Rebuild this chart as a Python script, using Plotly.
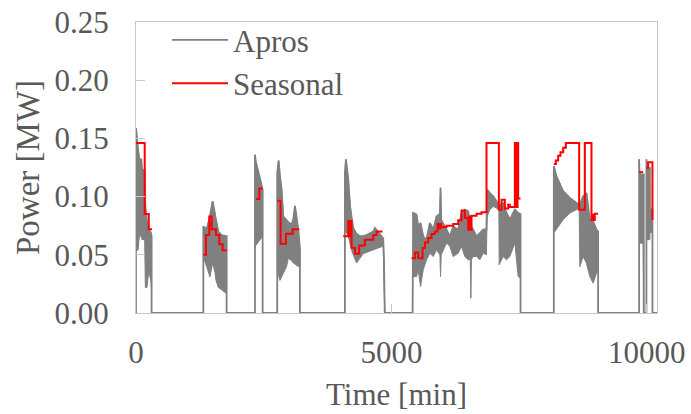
import plotly.graph_objects as go

# ---------------- data ----------------
# Apros: oscillating signal, given as upper / lower envelope per active period (time in min, power in MW)
seg1_t = [0, 40, 65, 105, 117, 170, 183, 215, 250, 290, 305]
seg1_hi = [0.159, 0.140, 0.132, 0.132, 0.123, 0.123, 0.092, 0.078, 0.072, 0.069, 0.066]
seg1_lo = [0.054, 0.054, 0.066, 0.066, 0.063, 0.063, 0.022, 0.022, 0.036, 0.028, 0.020]

seg2_t = [1318, 1331, 1383, 1448, 1500, 1546, 1566, 1611, 1676, 1761, 1774]
seg2_hi = [0.074, 0.074, 0.072, 0.083, 0.096, 0.083, 0.080, 0.070, 0.067, 0.066, 0.066]
seg2_lo = [0.048, 0.048, 0.040, 0.031, 0.043, 0.035, 0.028, 0.022, 0.020, 0.017, 0.017]

seg3_t = [2329, 2345, 2414, 2479]
seg3_hi = [0.136, 0.130, 0.118, 0.106]
seg3_lo = [0.057, 0.057, 0.062, 0.066]

seg4_t = [2765, 2792, 2818, 2851, 2883, 2948, 2981, 3046, 3079, 3112, 3177, 3209]
seg4_hi = [0.120, 0.131, 0.118, 0.106, 0.083, 0.079, 0.078, 0.076, 0.080, 0.092, 0.0715, 0.055]
seg4_lo = [0.040, 0.032, 0.028, 0.030, 0.034, 0.040, 0.047, 0.045, 0.043, 0.042, 0.040, 0.040]

seg5_t = [4090, 4110, 4155, 4188, 4220, 4253, 4318, 4383, 4449, 4514, 4644, 4677, 4808, 4840, 4855, 4870]
seg5_hi = [0.120, 0.132, 0.115, 0.092, 0.080, 0.073, 0.068, 0.066, 0.066, 0.067, 0.070, 0.073, 0.066, 0.064, 0.045, 0.005]
seg5_lo = [0.070, 0.070, 0.066, 0.060, 0.054, 0.050, 0.043, 0.047, 0.051, 0.052, 0.054, 0.055, 0.057, 0.057, 0.035, 0.000]

seg6_t = [5415, 5427, 5492, 5525, 5571, 5623, 5688, 5753, 5819, 5884, 5950, 5962, 5975,
          6014, 6080, 6145, 6210, 6308, 6373, 6438, 6504, 6545, 6556, 6567, 6601, 6667,
          6732, 6797, 6860, 6875, 6927, 6993, 7058, 7105, 7110, 7188, 7254, 7319, 7417,
          7482, 7528]
seg6_hi = [0.0845, 0.0859, 0.0845, 0.0744, 0.0773, 0.0658, 0.0629, 0.0773, 0.0716, 0.0830, 0.085, 0.1075, 0.080,
           0.0773, 0.0716, 0.0658, 0.0744, 0.0716, 0.0859, 0.0888, 0.0874, 0.075, 0.074, 0.074, 0.0716, 0.0658,
           0.0687, 0.0716, 0.072, 0.1060, 0.1031, 0.1003, 0.0960, 0.093, 0.0916, 0.0945, 0.0859, 0.0802, 0.0888,
           0.0859, 0.085]
seg6_lo = [0.031, 0.0313, 0.0313, 0.0371, 0.0227, 0.0371, 0.0457, 0.0514, 0.0485, 0.0543, 0.050, 0.0313, 0.050,
           0.0543, 0.0601, 0.0572, 0.0485, 0.0514, 0.0572, 0.0485, 0.0457, 0.046, 0.0127, 0.046, 0.0485, 0.0485,
           0.0457, 0.0514, 0.050, 0.0830, 0.0888, 0.0916, 0.0902, 0.088, 0.0414, 0.0485, 0.0457, 0.0485, 0.0601,
           0.0313, 0.030]

seg7_t = [8180, 8232, 8363, 8493, 8624, 8676, 8689, 8754, 8819, 8884, 8950, 9015, 9047]
seg7_hi = [0.126, 0.1175, 0.1046, 0.0989, 0.0945, 0.093, 0.093, 0.1003, 0.1031, 0.0802, 0.0787, 0.0716, 0.070]
seg7_lo = [0.0687, 0.0716, 0.0802, 0.0859, 0.0888, 0.090, 0.0399, 0.0485, 0.0428, 0.0313, 0.0256, 0.0342, 0.035]

seg8_t = [9850, 9858, 9928, 9940]
seg8_hi = [0.132, 0.119, 0.119, 0.119]
seg8_lo = [0.060, 0.060, 0.060, 0.000]

seg9_t = [9993, 10000, 10026, 10059, 10062, 10111]
seg9_hi = [0.132, 0.1247, 0.1247, 0.1247, 0.089, 0.089]
seg9_lo = [0.063, 0.063, 0.063, 0.063, 0.069, 0.069]

apros_end = 10200

# Seasonal: step series (value holds until next time), one list pair per active period
sea1_t = [0, 170, 250, 315]
sea1_p = [0.146, 0.085, 0.072, 0.072]
sea2_t = [1318, 1370, 1435, 1481, 1566, 1631, 1696, 1774]
sea2_p = [0.050, 0.067, 0.083, 0.072, 0.067, 0.059, 0.054, 0.054]
sea3_t = [2348, 2414, 2479]
sea3_p = [0.098, 0.107, 0.107]
sea4_t = [2765, 2831, 2935, 3066, 3196]
sea4_p = [0.0965, 0.0595, 0.068, 0.072, 0.072]
sea5_t = [4057, 4155, 4170, 4185, 4200, 4210, 4220, 4286, 4370, 4481, 4644, 4710, 4827]
sea5_p = [0.066, 0.079, 0.066, 0.079, 0.066, 0.079, 0.056, 0.051, 0.058, 0.063, 0.067, 0.070, 0.070]
sea6_t = [5395, 5460, 5525, 5610, 5656, 5721, 5786, 5851, 5903, 5918, 5933, 5948, 5960, 5969,
          6080, 6210, 6308, 6373, 6438, 6504, 6518, 6532, 6546, 6560, 6569, 6667, 6765, 6862,
          7104, 7156, 7221, 7286, 7319, 7417, 7430, 7443, 7456, 7469, 7482, 7528]
sea6_p = [0.047, 0.052, 0.047, 0.0558, 0.0606, 0.0644, 0.0678, 0.070, 0.0765, 0.0725, 0.0765, 0.0725, 0.0765, 0.0739,
          0.075, 0.0764, 0.0796, 0.088, 0.0816, 0.0716, 0.083, 0.0716, 0.083, 0.0716, 0.0836, 0.0853, 0.0865, 0.146,
          0.0888, 0.0974, 0.0897, 0.093, 0.0911, 0.146, 0.091, 0.146, 0.091, 0.146, 0.0983, 0.0983]
sea7_t = [8180, 8219, 8265, 8310, 8363, 8415, 8676, 8787, 8917, 8930, 8943, 8956, 8969, 8982, 9047]
sea7_p = [0.128, 0.131, 0.135, 0.138, 0.142, 0.146, 0.0888, 0.146, 0.080, 0.0845, 0.080, 0.0845, 0.080, 0.0853, 0.0853]
sea8_t = [9850, 9928]
sea8_p = [0.121, 0.121]
sea9_t = [9993, 10026, 10111, 10111]
sea9_p = [0.1247, 0.1296, 0.1296, 0.080]

x_ticks = [0, 5000, 10000]
y_ticks = [0.00, 0.05, 0.10, 0.15, 0.20, 0.25]

# ---------------- build traces ----------------
apros_segs = [(seg1_t, seg1_hi, seg1_lo), (seg2_t, seg2_hi, seg2_lo), (seg3_t, seg3_hi, seg3_lo),
              (seg4_t, seg4_hi, seg4_lo), (seg5_t, seg5_hi, seg5_lo), (seg6_t, seg6_hi, seg6_lo),
              (seg7_t, seg7_hi, seg7_lo), (seg8_t, seg8_hi, seg8_lo), (seg9_t, seg9_hi, seg9_lo)]
sea_segs = [(sea1_t, sea1_p), (sea2_t, sea2_p), (sea3_t, sea3_p), (sea4_t, sea4_p), (sea5_t, sea5_p),
            (sea6_t, sea6_p), (sea7_t, sea7_p), (sea8_t, sea8_p), (sea9_t, sea9_p)]

GRAY = "#808080"
RED = "#ff0000"
TXT = "#595959"
FONT = "Liberation Serif"

band_x, band_y = [], []
for t, hi, lo in apros_segs:
    band_x += list(t) + list(t)[::-1] + [None]
    band_y += list(hi) + list(lo)[::-1] + [None]

line_x, line_y = [], []
for t, hi, lo in apros_segs:
    line_x += [t[0]] + list(t) + [t[-1]]
    line_y += [0.0] + list(hi) + [0.0]
line_x.append(apros_end)
line_y.append(0.0)

sea_x, sea_y = [], []
for t, p in sea_segs:
    sea_x += list(t) + [None]
    sea_y += list(p) + [None]

fig = go.Figure()
fig.add_trace(go.Scatter(x=band_x, y=band_y, mode="lines", fill="toself", fillcolor=GRAY,
                         line=dict(color=GRAY, width=1), showlegend=False, hoverinfo="skip"))
fig.add_trace(go.Scatter(x=line_x, y=line_y, mode="lines", name="Apros",
                         line=dict(color=GRAY, width=1.8)))
fig.add_trace(go.Scatter(x=sea_x, y=sea_y, mode="lines", name="Seasonal", connectgaps=False,
                         line=dict(color=RED, width=2, shape="hv")))

axis_common = dict(showgrid=False, zeroline=False, showline=True, mirror=True, automargin=False,
                   linecolor="#c8c8c8", linewidth=1, ticks="inside", ticklen=9,
                   tickcolor="#c8c8c8", tickfont=dict(family=FONT, size=31, color=TXT))

fig.update_layout(
    width=691, height=414,
    margin=dict(l=136, r=34, t=22, b=101, autoexpand=False),
    paper_bgcolor="white", plot_bgcolor="white",
    font=dict(family=FONT, size=31, color=TXT),
    xaxis=dict(range=[0, apros_end], tickvals=x_ticks, ticktext=[str(v) for v in x_ticks],
               title=dict(text="Time [min]", font=dict(family=FONT, size=31, color=TXT), standoff=14),
               ticklabelstandoff=12, **axis_common),
    yaxis=dict(range=[0, 0.25], tickvals=y_ticks, ticktext=[f"{v:.2f}" for v in y_ticks],
               title=dict(text="Power [MW]", font=dict(family=FONT, size=33, color=TXT), standoff=4),
               ticklabelstandoff=20, **axis_common),
    legend=dict(x=0.0595, y=1.03, xanchor="left", yanchor="top", bgcolor="rgba(0,0,0,0)",
                font=dict(family=FONT, size=31, color=TXT), itemwidth=56, tracegroupgap=0),
    showlegend=True,
)

# remove the default 8px page margin so the 691x414 figure fills the window exactly
fig.write_html("out.html", config={"displayModeBar": False},
               post_script="document.body.style.margin='0';document.body.style.overflow='hidden';")
